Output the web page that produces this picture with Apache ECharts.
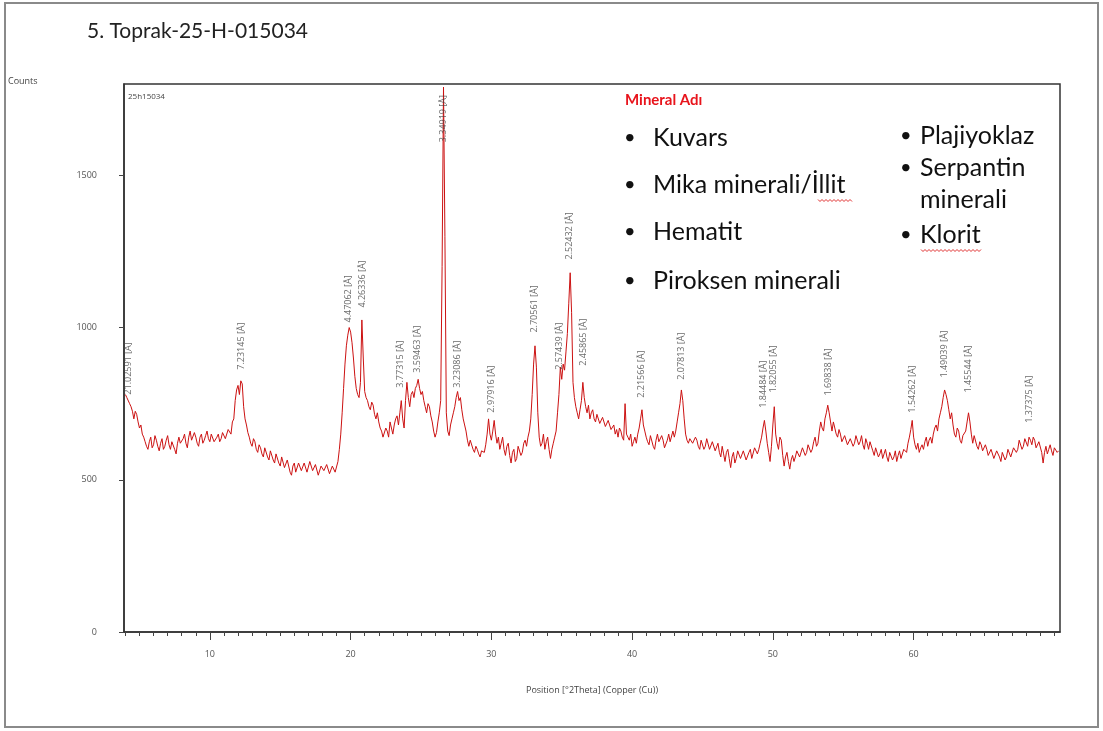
<!DOCTYPE html>
<html><head><meta charset="utf-8">
<script src="https://cdn.jsdelivr.net/npm/echarts@6/dist/echarts.min.js"></script>
<style>html,body{margin:0;padding:0;background:#fff}#c{width:1103px;height:731px}</style>
</head><body><div id="c"></div>
<script>
// XRD pattern: [2Theta, Counts]
const pattern = [
[4.0,780],[4.1,770],[4.2,765],[4.3,750],[4.4,740],[4.5,725],[4.6,700],[4.7,725],[4.8,715],[4.9,690],
[5.0,670],[5.1,680],[5.2,650],[5.3,640],[5.4,625],[5.5,610],[5.6,600],[5.7,625],[5.8,640],[5.9,605],
[6.0,615],[6.1,645],[6.2,630],[6.3,610],[6.4,595],[6.5,620],[6.6,635],[6.7,600],[6.8,610],[6.9,630],
[7.0,645],[7.1,615],[7.2,600],[7.3,625],[7.4,630],[7.5,600],[7.6,585],[7.7,620],[7.8,640],[7.9,620],
[8.0,615],[8.1,635],[8.2,650],[8.3,620],[8.4,605],[8.5,640],[8.6,660],[8.7,630],[8.8,625],[8.9,655],
[9.0,640],[9.1,620],[9.2,610],[9.3,640],[9.4,650],[9.5,620],[9.6,630],[9.7,645],[9.8,660],[9.9,635],
[10.0,625],[10.1,650],[10.2,645],[10.3,625],[10.4,620],[10.5,640],[10.6,650],[10.7,625],[10.8,635],[10.9,655],
[11.0,660],[11.1,635],[11.2,640],[11.3,665],[11.4,670],[11.5,650],[11.6,690],[11.7,700],[11.8,760],[11.9,795],
[12.0,810],[12.1,780],[12.2,825],[12.3,815],[12.4,740],[12.5,700],[12.6,680],[12.7,655],[12.8,640],[12.9,620],
[13.0,610],[13.1,635],[13.2,625],[13.3,600],[13.4,590],[13.5,615],[13.6,605],[13.7,585],[13.8,575],[13.9,605],
[14.0,600],[14.1,575],[14.2,565],[14.3,595],[14.4,590],[14.5,565],[14.6,555],[14.7,585],[14.8,580],[14.9,555],
[15.0,545],[15.1,575],[15.2,570],[15.3,540],[15.4,535],[15.5,565],[15.6,560],[15.7,525],[15.8,515],[15.9,545],
[16.0,555],[16.1,525],[16.2,530],[16.3,555],[16.4,560],[16.5,530],[16.6,525],[16.7,555],[16.8,550],[16.9,525],
[17.0,530],[17.1,560],[17.2,555],[17.3,530],[17.4,525],[17.5,550],[17.6,545],[17.7,515],[17.8,520],[17.9,545],
[18.0,550],[18.1,530],[18.2,525],[18.3,550],[18.4,545],[18.5,520],[18.6,515],[18.7,545],[18.8,550],[18.9,525],
[19.0,530],[19.1,560],[19.2,600],[19.3,650],[19.4,720],[19.5,800],[19.6,880],[19.7,940],[19.8,975],[19.9,1000],
[20.0,985],[20.1,950],[20.2,900],[20.3,840],[20.4,800],[20.5,780],[20.6,770],[20.7,820],[20.8,1025],[20.9,900],
[21.0,790],[21.1,770],[21.2,760],[21.3,740],[21.4,730],[21.5,755],[21.6,745],[21.7,715],[21.8,700],[21.9,720],
[22.0,690],[22.1,670],[22.2,660],[22.3,640],[22.4,635],[22.5,670],[22.6,660],[22.7,640],[22.8,690],[22.9,670],
[23.0,650],[23.1,680],[23.2,700],[23.3,710],[23.4,680],[23.5,720],[23.6,760],[23.7,700],[23.8,670],[23.9,760],
[24.0,820],[24.1,770],[24.2,740],[24.3,780],[24.4,790],[24.5,770],[24.6,800],[24.7,810],[24.8,830],[24.9,800],
[25.0,780],[25.1,790],[25.2,760],[25.3,740],[25.4,720],[25.5,750],[25.6,740],[25.7,710],[25.8,690],[25.9,660],
[26.0,640],[26.1,655],[26.2,690],[26.3,720],[26.4,760],[26.5,1200],[26.6,1790],[26.7,1300],[26.8,720],[26.9,660],
[27.0,645],[27.1,680],[27.2,700],[27.3,720],[27.4,740],[27.5,770],[27.6,790],[27.7,760],[27.8,770],[27.9,730],
[28.0,700],[28.1,680],[28.2,660],[28.3,630],[28.4,610],[28.5,630],[28.6,625],[28.7,600],[28.8,590],[28.9,610],
[29.0,600],[29.1,585],[29.2,575],[29.3,595],[29.4,600],[29.5,590],[29.6,615],[29.7,650],[29.8,700],[29.9,650],
[30.0,630],[30.1,660],[30.2,695],[30.3,650],[30.4,620],[30.5,640],[30.6,600],[30.7,620],[30.8,640],[30.9,600],
[31.0,580],[31.1,610],[31.2,620],[31.3,580],[31.4,555],[31.5,590],[31.6,600],[31.7,560],[31.8,570],[31.9,610],
[32.0,615],[32.1,580],[32.2,590],[32.3,620],[32.4,630],[32.5,610],[32.6,640],[32.7,660],[32.8,700],[32.9,780],
[33.0,880],[33.1,940],[33.2,870],[33.3,720],[33.4,640],[33.5,610],[33.6,620],[33.7,650],[33.8,600],[33.9,625],
[34.0,640],[34.1,600],[34.2,570],[34.3,600],[34.4,620],[34.5,640],[34.6,660],[34.7,720],[34.8,780],[34.9,870],
[35.0,830],[35.1,880],[35.2,860],[35.3,920],[35.4,980],[35.5,1080],[35.6,1180],[35.7,1050],[35.8,820],[35.9,770],
[36.0,740],[36.1,720],[36.2,700],[36.3,730],[36.4,760],[36.5,820],[36.6,770],[36.7,740],[36.8,720],[36.9,745],
[37.0,700],[37.1,720],[37.2,730],[37.3,700],[37.4,690],[37.5,715],[37.6,710],[37.7,685],[37.8,680],[37.9,705],
[38.0,700],[38.1,675],[38.2,670],[38.3,695],[38.4,690],[38.5,665],[38.6,660],[38.7,680],[38.8,650],[38.9,665],
[39.0,640],[39.1,670],[39.2,660],[39.3,640],[39.4,630],[39.5,750],[39.6,650],[39.7,640],[39.8,630],[39.9,650],
[40.0,610],[40.1,625],[40.2,640],[40.3,620],[40.4,650],[40.5,670],[40.6,700],[40.7,730],[40.8,680],[40.9,660],
[41.0,640],[41.1,625],[41.2,615],[41.3,645],[41.4,640],[41.5,610],[41.6,600],[41.7,630],[41.8,650],[41.9,625],
[42.0,620],[42.1,645],[42.2,630],[42.3,605],[42.4,600],[42.5,630],[42.6,650],[42.7,625],[42.8,620],[42.9,660],
[43.0,640],[43.1,660],[43.2,690],[43.3,720],[43.4,750],[43.5,795],[43.6,760],[43.7,700],[43.8,650],[43.9,630],
[44.0,620],[44.1,635],[44.2,640],[44.3,620],[44.4,615],[44.5,640],[44.6,630],[44.7,610],[44.8,600],[44.9,630],
[45.0,625],[45.1,600],[45.2,610],[45.3,635],[45.4,630],[45.5,600],[45.6,605],[45.7,625],[45.8,620],[45.9,595],
[46.0,600],[46.1,620],[46.2,590],[46.3,575],[46.4,610],[46.5,585],[46.6,560],[46.7,590],[46.8,600],[46.9,570],
[47.0,540],[47.1,575],[47.2,590],[47.3,555],[47.4,570],[47.5,595],[47.6,600],[47.7,570],[47.8,565],[47.9,595],
[48.0,590],[48.1,565],[48.2,560],[48.3,590],[48.4,600],[48.5,570],[48.6,575],[48.7,605],[48.8,610],[48.9,585],
[49.0,600],[49.1,620],[49.2,640],[49.3,670],[49.4,695],[49.5,660],[49.6,620],[49.7,590],[49.8,560],[49.9,610],
[50.0,680],[50.1,740],[50.2,650],[50.3,620],[50.4,600],[50.5,640],[50.6,630],[50.7,580],[50.8,545],[50.9,575],
[51.0,590],[51.1,560],[51.2,535],[51.3,565],[51.4,580],[51.5,560],[51.6,575],[51.7,595],[51.8,600],[51.9,575],
[52.0,580],[52.1,605],[52.2,600],[52.3,580],[52.4,590],[52.5,615],[52.6,610],[52.7,590],[52.8,600],[52.9,625],
[53.0,640],[53.1,610],[53.2,620],[53.3,660],[53.4,690],[53.5,670],[53.6,660],[53.7,700],[53.8,720],[53.9,745],
[54.0,720],[54.1,690],[54.2,660],[54.3,690],[54.4,670],[54.5,650],[54.6,640],[54.7,665],[54.8,650],[54.9,625],
[55.0,620],[55.1,645],[55.2,640],[55.3,615],[55.4,610],[55.5,635],[55.6,630],[55.7,610],[55.8,620],[55.9,645],
[56.0,640],[56.1,615],[56.2,625],[56.3,645],[56.4,615],[56.5,600],[56.6,635],[56.7,620],[56.8,600],[56.9,625],
[57.0,620],[57.1,595],[57.2,580],[57.3,605],[57.4,600],[57.5,575],[57.6,585],[57.7,600],[57.8,570],[57.9,585],
[58.0,600],[58.1,575],[58.2,560],[58.3,590],[58.4,590],[58.5,565],[58.6,575],[58.7,595],[58.8,560],[58.9,580],
[59.0,595],[59.1,570],[59.2,575],[59.3,600],[59.4,600],[59.5,590],[59.6,620],[59.7,640],[59.8,665],[59.9,695],
[60.0,640],[60.1,615],[60.2,600],[60.3,620],[60.4,590],[60.5,605],[60.6,615],[60.7,600],[60.8,625],[60.9,640],
[61.0,610],[61.1,630],[61.2,640],[61.3,620],[61.4,650],[61.5,670],[61.6,680],[61.7,660],[61.8,700],[61.9,720],
[62.0,740],[62.1,770],[62.2,795],[62.3,780],[62.4,760],[62.5,730],[62.6,700],[62.7,720],[62.8,680],[62.9,650],
[63.0,640],[63.1,670],[63.2,660],[63.3,630],[63.4,620],[63.5,645],[63.6,640],[63.7,660],[63.8,690],[63.9,720],
[64.0,690],[64.1,650],[64.2,620],[64.3,645],[64.4,640],[64.5,610],[64.6,600],[64.7,625],[64.8,615],[64.9,595],
[65.0,590],[65.1,615],[65.2,600],[65.3,580],[65.4,575],[65.5,600],[65.6,595],[65.7,570],[65.8,570],[65.9,595],
[66.0,600],[66.1,575],[66.2,560],[66.3,590],[66.4,590],[66.5,565],[66.6,575],[66.7,600],[66.8,600],[66.9,575],
[67.0,580],[67.1,605],[67.2,610],[67.3,590],[67.4,600],[67.5,630],[67.6,625],[67.7,600],[67.8,610],[67.9,635],
[68.0,630],[68.1,610],[68.2,640],[68.3,630],[68.4,615],[68.5,640],[68.6,630],[68.7,605],[68.8,600],[68.9,625],
[69.0,620],[69.1,590],[69.2,555],[69.3,590],[69.4,610],[69.5,585],[69.6,600],[69.7,615],[69.8,595],[69.9,580],
[70.0,605],[70.1,600],[70.2,590],[70.3,595]
];
// peak annotations
const peakPos = [4.2,12.23,19.84,20.82,23.56,24.75,26.59,27.59,29.97,33.08,34.82,35.54,36.52,40.69,43.52,49.36,50.06,53.94,59.92,62.22,63.91,68.21];
const peakLabelBase = [773,855,1010,1059,796,845,1602,796,714,977,855,1217,868,763,822,730,780,770,714,829,780,681];
const peakText = ['21.02591 [Å]','7.23145 [Å]','4.47062 [Å]','4.26336 [Å]','3.77315 [Å]','3.59463 [Å]','3.34919 [Å]','3.23086 [Å]','2.97916 [Å]','2.70561 [Å]','2.57439 [Å]','2.52432 [Å]','2.45865 [Å]','2.21566 [Å]','2.07813 [Å]','1.84484 [Å]','1.82055 [Å]','1.69838 [Å]','1.54262 [Å]','1.49039 [Å]','1.45544 [Å]','1.37375 [Å]'];
const xMajor = [10,20,30,40,50,60];
const xMinor = [4,5,6,7,8,9,11,12,13,14,15,16,17,18,19,21,22,23,24,25,26,27,28,29,31,32,33,34,35,36,37,38,39,41,42,43,44,45,46,47,48,49,51,52,53,54,55,56,57,58,59,61,62,63,64,65,66,67,68,69,70];
const yTicks = [0,500,1000,1500];
const mineralsCol1 = ['Kuvars','Mika minerali/İllit','Hematit','Piroksen minerali'];
const mineralsCol2 = ['Plajiyoklaz','Serpantin','minerali','Klorit'];

const chart = echarts.init(document.getElementById('c'), null, {renderer:'canvas'});
const F = 'Lato, "Open Sans", sans-serif';
const lab = {color:'#555', fontSize:9, fontFamily:'"Open Sans", sans-serif'};

const graphics = [
  {type:'rect', shape:{x:5,y:3,width:1093,height:724}, style:{fill:'none', stroke:'#8a8a8a', lineWidth:2}, silent:true},
  {type:'text', x:87, y:31, style:{text:'5. Toprak-25-H-015034', font:'21px '+F, fill:'#222', verticalAlign:'middle'}},
  {type:'text', left:8, top:77, style:{text:'Counts', font:'9px "Open Sans", sans-serif', fill:'#444'}},
  {type:'text', left:128, top:93, style:{text:'25h15034', font:'8px "Open Sans", sans-serif', fill:'#444'}},
  {type:'text', x:625, y:100, style:{text:'Mineral Adı', font:'bold 15px '+F, fill:'#e8141c', verticalAlign:'middle'}}
];
const c1y = [138,185,232,281], c2y = [136,168,200,235];
mineralsCol1.forEach((t,i)=>{
  graphics.push({type:'text', x:624, y:c1y[i], style:{text:'•', font:'20px '+F, fill:'#111', verticalAlign:'middle'}});
  graphics.push({type:'text', x:653, y:c1y[i], style:{text:t, font:'25px '+F, fill:'#111', verticalAlign:'middle'}});
});
mineralsCol2.forEach((t,i)=>{
  if (t !== 'minerali') graphics.push({type:'text', x:900, y:c2y[i], style:{text:'•', font:'20px '+F, fill:'#111', verticalAlign:'middle'}});
  graphics.push({type:'text', x:920, y:c2y[i], style:{text:t, font:'25px '+F, fill:'#111', verticalAlign:'middle'}});
});
function wavy(x0,x1,y){const p=[];let k=0;for(let x=x0;x<=x1;x+=2){p.push([x,y+(k%2?1.5:-0.5)]);k++;}return {type:'polyline', shape:{points:p}, style:{stroke:'#e03030', lineWidth:1, fill:'none'}, silent:true};}
graphics.push(wavy(818,853,200));
graphics.push(wavy(921,982,250));

const option = {
  backgroundColor:'#fff',
  animation:false,
  grid:{left:124, top:84, right:43, bottom:99, show:true, borderColor:'#333', borderWidth:1.5, containLabel:false},
  xAxis:[
    {type:'value', min:3.9, max:70.4, position:'bottom',
     axisLine:{show:true, lineStyle:{color:'#333', width:1.5}},
     axisTick:{show:true, length:8, customValues:xMajor, lineStyle:{color:'#444'}},
     axisLabel:{...lab, customValues:xMajor, margin:18},
     splitLine:{show:false},
     name:'Position [°2Theta] (Copper (Cu))', nameLocation:'middle', nameGap:54,
     nameTextStyle:{color:'#444', fontSize:9, fontFamily:'"Open Sans", sans-serif'}},
    {type:'value', min:3.9, max:70.4, position:'bottom',
     axisLine:{show:false},
     axisTick:{show:true, length:4, customValues:xMinor, lineStyle:{color:'#444'}},
     axisLabel:{show:false}, splitLine:{show:false}}
  ],
  yAxis:{type:'value', min:0, max:1800,
     axisLine:{show:true, lineStyle:{color:'#333', width:1.5}},
     axisTick:{show:true, length:5, customValues:yTicks, lineStyle:{color:'#444'}},
     axisLabel:{...lab, customValues:yTicks, margin:27, formatter:(v)=>String(v)},
     splitLine:{show:false}},
  series:[
    {type:'line', data:pattern, showSymbol:false, symbol:'none', lineStyle:{color:'#cc1111', width:1}, z:3},
    {type:'scatter', data:peakPos.map((p,i)=>[p,peakLabelBase[i]]), symbolSize:0, z:4,
     label:{show:true, position:'top', distance:2, rotate:90, align:'left', verticalAlign:'middle',
       color:'#444', fontSize:9, fontFamily:'"Open Sans", sans-serif',
       formatter:(p)=>peakText[p.dataIndex]},
     labelLayout:{hideOverlap:false}}
  ],
  graphic:graphics
};
chart.setOption(option);
</script></body></html>
